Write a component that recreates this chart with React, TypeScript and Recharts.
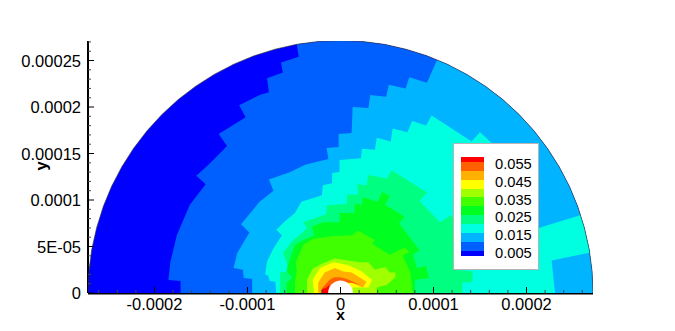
import { Label, Scatter, ScatterChart, XAxis, YAxis } from "recharts";

// contour outlines are in micrometres (1 = 1E-06 on the axes), painted from outside in
type Pt = [number, number];

const rim: Pt[] = [
  [-271.5, 0], [-270.5, 23.7], [-267.4, 47.1], [-262.2, 70.3], [-255.1, 92.9], [-246.1, 114.7],
  [-235.1, 135.8], [-222.4, 155.7], [-208, 174.5], [-192, 192], [-174.5, 208], [-155.7, 222.4],
  [-135.8, 235.1], [-114.7, 246.1], [-92.9, 255.1], [-70.3, 262.2], [-47.1, 267.4], [-23.7, 270.5],
  [0, 271.5], [23.7, 270.5], [47.1, 267.4], [70.3, 262.2], [92.9, 255.1], [114.7, 246.1],
  [135.8, 235.1], [155.7, 222.4], [174.5, 208], [192, 192], [208, 174.5], [222.4, 155.7],
  [235.1, 135.8], [246.1, 114.7], [255.1, 92.9], [262.2, 70.3], [267.4, 47.1], [270.5, 23.7],
  [271.5, 0],
];

const level010: Pt[] = [
  [-172, -3], [-172, 13], [-185, 14], [-183, 33], [-176, 62], [-162, 95], [-145, 117], [-155, 126],
  [-142, 138], [-122, 158], [-131, 171], [-102, 189], [-109, 202], [-87, 213], [-77, 216], [-79, 231],
  [-62, 237], [-64, 248], [-45, 254], [-47, 268], [-47, 290], [290, 290], [290, -3],
];

const level015: Pt[] = [
  [-95, -3], [-95, 15], [-104, 16], [-105, 25], [-115, 27], [-111, 43], [-98, 65], [-107, 74],
  [-87, 98], [-72, 110], [-77, 122], [-54, 130], [-38, 138], [-13, 144], [-15, 156], [-2, 157],
  [-2, 171], [12, 172], [13, 200], [30, 199], [32, 213], [49, 211], [52, 224], [70, 220], [74, 232],
  [93, 226], [103, 249], [116, 274], [116, 290], [290, 290], [290, -3],
];

const level020: Pt[] = [
  [-69, -3], [-70, 12], [-76, 13], [-78, 19], [-81, 20], [-79, 34], [-72, 48], [-63, 62], [-69, 68],
  [-60, 77], [-49, 86], [-42, 98], [-30, 102], [-20, 105], [-19, 116], [-9, 118], [-9, 129], [-1, 130],
  [-1, 143], [22, 145], [23, 155], [37, 154], [39, 167], [54, 163], [56, 177], [72, 173], [77, 185],
  [92, 180], [98, 191], [141, 163], [150, 173], [164, 160], [172, 100], [213, 70], [256, 83], [290, 95],
  [290, 43], [266, 43], [227, 35], [231, -3],
];

const level025: Pt[] = [
  [-65, -3], [-65, 22], [-56, 23], [-58, 33], [-62, 43], [-51, 57], [-44, 62], [-36, 70], [-40, 76],
  [-15, 85], [-15, 94], [7, 96], [7, 106], [19, 106], [18, 117], [28, 116], [30, 127], [50, 123],
  [55, 132], [93, 108], [85, 99], [107, 76], [119, 84], [122, 78], [122, 25], [142, 23], [142, 12],
  [131, 11], [131, -3],
];

const level030: Pt[] = [
  [-58, -3], [-58, 11], [-52, 16], [-58, 24], [-56, 32], [-49, 52], [-40, 57], [-28, 62], [-31, 71],
  [-19, 76], [-1, 76], [-1, 86], [15, 86], [15, 96], [23, 95], [24, 103], [40, 98], [45, 109], [53, 104],
  [48, 95], [69, 82], [63, 75], [85, 46], [78, 41], [82, 27], [92, 29], [95, 16], [80, 14], [80, -3],
];

const level035: Pt[] = [
  [-49, -3], [-49, 14], [-47, 23], [-48, 33], [-40, 52], [-30, 58], [-11, 61], [13, 62], [18, 67],
  [21, 66], [37, 57], [34, 53], [53, 41], [69, 49], [74, 44], [67, 40], [75, 23], [78, -3],
];

const level040: Pt[] = [
  [-36, -3], [-36, 14], [-30, 26], [-19, 32], [-6, 37], [8, 35], [21, 33], [30, 33], [37, 25], [48, 28],
  [53, 22], [59, 22], [59, 17], [50, 9], [39, 6], [39, -3],
];

const level045: Pt[] = [
  [-28, -3], [-30, 14], [-22, 27], [-8, 33], [8, 30], [23, 23], [34, 14], [30, 6], [13, 6], [13, -3],
];

const level050: Pt[] = [
  [-24, -3], [-24, 11], [-17, 22], [-6, 27], [3, 23], [12, 22], [28, 12], [24, 6], [12, 11], [5, 11], [5, -3],
];

const level055: Pt[] = [
  [-20, -3], [-20, 5], [-12, 14], [-7, 17], [0, 17], [7, 15], [21, 9], [12, 11], [5, 11], [5, -3],
];

const level060: Pt[] = [
  [-20, -3], [-20, 4], [-15, 6], [-12, 9], [-10, -3],
];

const hole: Pt[] = [
  [-13.4, 0], [-12.9, 3.5], [-11.6, 6.7], [-9.5, 9.5], [-6.7, 11.6], [-3.5, 12.9], [0, 13.4],
  [3.5, 12.9], [6.7, 11.6], [9.5, 9.5], [11.6, 6.7], [12.9, 3.5], [13.4, 0],
];

const bands: { name: string; outline: Pt[]; color: string }[] = [
  { name: "0.010", outline: level010, color: "#0060ff" },
  { name: "0.015", outline: level015, color: "#00b4ff" },
  { name: "0.020", outline: level020, color: "#00ffe0" },
  { name: "0.025", outline: level025, color: "#00ff80" },
  { name: "0.030", outline: level030, color: "#00ff20" },
  { name: "0.035", outline: level035, color: "#40ff00" },
  { name: "0.040", outline: level040, color: "#a0ff00" },
  { name: "0.045", outline: level045, color: "#ffff00" },
  { name: "0.050", outline: level050, color: "#ffb000" },
  { name: "0.055", outline: level055, color: "#ff6000" },
  { name: "0.060", outline: level060, color: "#ff0000" },
  { name: "hole", outline: hole, color: "#ffffff" },
];

const xTicks = [
  -260, -240, -220, -200, -180, -160, -140, -120, -100, -80, -60, -40, -20, 0,
  20, 40, 60, 80, 100, 120, 140, 160, 180, 200, 220, 240, 260,
];
const xTickLabels: Record<number, string> = {
  [-200]: "-0.0002", [-100]: "-0.0001", 0: "0", 100: "0.0001", 200: "0.0002",
};
const yTicks = [
  0, 10, 20, 30, 40, 50, 60, 70, 80, 90, 100, 110, 120, 130, 140, 150, 160, 170, 180, 190, 200,
  210, 220, 230, 240, 250, 260, 270,
];
const yTickLabels: Record<number, string> = {
  0: "0", 50: "5E-05", 100: "0.0001", 150: "0.00015", 200: "0.0002", 250: "0.00025",
};

const legendColors = [
  "#ff0000", "#ff6000", "#ffb000", "#ffff00", "#a0ff00", "#40ff00",
  "#00ff20", "#00ff80", "#00ffe0", "#00b4ff", "#0060ff", "#0000ff",
];
const legendLabels = ["0.055", "0.045", "0.035", "0.025", "0.015", "0.005"];

const X_MIN = -271.5;
const FONT = "Arial, 'Liberation Sans', sans-serif";

const toRows = (pts: Pt[]) => pts.map(([x, y]) => ({ x, y }));
const toPath = (points: any[]) =>
  points.map((p, i) => `${i === 0 ? "M" : "L"}${p.x} ${p.y}`).join(" ") + " Z";

const noDot = () => <g />;

function XTick({ x, y, payload }: any) {
  const label = xTickLabels[payload.value];
  if (!label) return <g />;
  return (
    <text x={x} y={y + 17} textAnchor="middle" fontSize={16.5} fontFamily={FONT} fill="#000">
      {label}
    </text>
  );
}

function YTick({ x, y, payload }: any) {
  const label = yTickLabels[payload.value];
  if (!label) return <g />;
  return (
    <text x={x - 7} y={y + 6} textAnchor="end" fontSize={16.5} fontFamily={FONT} fill="#000">
      {label}
    </text>
  );
}

// ticks point into the plot and sit on top of the colours, so they are their own series
function XMark({ cx, cy, payload }: any) {
  const major = xTickLabels[payload.x];
  return (
    <line x1={cx} x2={cx} y1={cy} y2={cy - (major ? 6 : 3)} stroke={major ? "#000" : "#444"} strokeWidth={1} />
  );
}

function YMark({ cx, cy, payload }: any) {
  const major = yTickLabels[payload.y];
  return (
    <line x1={cx} x2={cx + (major ? 6 : 3)} y1={cy} y2={cy} stroke={major ? "#000" : "#444"} strokeWidth={1} />
  );
}

export default function App() {
  return (
    <div style={{ position: "absolute", left: 0, top: 0, width: 675, height: 331, background: "#fff" }}>
      <ScatterChart width={675} height={331} margin={{ top: 41, right: 82, bottom: 0, left: 0 }}>
        <XAxis
          type="number"
          dataKey="x"
          domain={[X_MIN, 271.5]}
          allowDataOverflow
          ticks={xTicks}
          interval={0}
          tick={<XTick />}
          tickLine={false}
          tickSize={0}
          tickMargin={0}
          height={38}
          axisLine={{ stroke: "#000", strokeWidth: 3 }}
        >
          <Label
            content={({ viewBox }: any) => (
              <text
                x={viewBox.x + viewBox.width / 2}
                y={viewBox.y + 26.5}
                textAnchor="middle"
                fontSize={15.5}
                fontWeight={700}
                fontFamily={FONT}
                fill="#000"
              >
                x
              </text>
            )}
          />
        </XAxis>
        <YAxis
          type="number"
          dataKey="y"
          domain={[0, 271]}
          allowDataOverflow
          ticks={yTicks}
          interval={0}
          tick={<YTick />}
          tickLine={false}
          tickSize={0}
          tickMargin={0}
          width={88}
          axisLine={{ stroke: "#000", strokeWidth: 2 }}
        >
          <Label
            content={({ viewBox }: any) => {
              const cy = viewBox.y + viewBox.height / 2 - 1;
              return (
                <text
                  x={47}
                  y={cy}
                  transform={`rotate(-90 47 ${cy})`}
                  textAnchor="middle"
                  fontSize={16.5}
                  fontWeight={700}
                  fontFamily={FONT}
                  fill="#000"
                >
                  y
                </text>
              );
            }}
          />
        </YAxis>

        {/* outermost band also defines the clip for everything above it */}
        <Scatter
          name="0.005"
          data={toRows(rim)}
          shape={noDot}
          isAnimationActive={false}
          line={(p: any) => (
            <g>
              <clipPath id="disc">
                <path d={toPath(p.points)} />
              </clipPath>
              <path d={toPath(p.points)} fill="#0000ff" stroke="none" />
            </g>
          )}
        />
        {bands.map((b) => (
          <Scatter
            key={b.name}
            name={b.name}
            data={toRows(b.outline)}
            shape={noDot}
            isAnimationActive={false}
            line={(p: any) => (
              <path d={toPath(p.points)} fill={b.color} stroke="none" clipPath="url(#disc)" />
            )}
          />
        ))}
        <Scatter
          name="rim"
          data={toRows(rim)}
          shape={noDot}
          isAnimationActive={false}
          line={(p: any) => (
            <path
              d={p.points.map((q: any, i: number) => `${i === 0 ? "M" : "L"}${q.x} ${q.y}`).join(" ")}
              fill="none"
              stroke="#333"
              strokeWidth={0.6}
            />
          )}
        />
        <Scatter
          name="x ticks"
          data={xTicks.map((x) => ({ x, y: 0 }))}
          shape={XMark}
          isAnimationActive={false}
        />
        <Scatter
          name="y ticks"
          data={yTicks.map((y) => ({ x: X_MIN, y }))}
          shape={YMark}
          isAnimationActive={false}
        />
      </ScatterChart>

      <div
        style={{
          position: "absolute",
          left: 453,
          top: 143,
          width: 84,
          height: 125,
          background: "#fff",
          border: "1px solid #b5b5b5",
        }}
      >
        <div style={{ position: "absolute", left: 7, top: 13, width: 23 }}>
          {legendColors.map((c, i) => (
            <div
              key={c}
              style={{ background: c, height: i === 0 || i === legendColors.length - 1 ? 4.9 : 8.9 }}
            />
          ))}
        </div>
        {legendLabels.map((l, i) => (
          <div
            key={l}
            style={{
              position: "absolute",
              left: 41,
              top: 12 + i * 17.8,
              fontFamily: FONT,
              fontSize: 14.7,
              lineHeight: "17px",
              color: "#000",
            }}
          >
            {l}
          </div>
        ))}
      </div>
    </div>
  );
}
